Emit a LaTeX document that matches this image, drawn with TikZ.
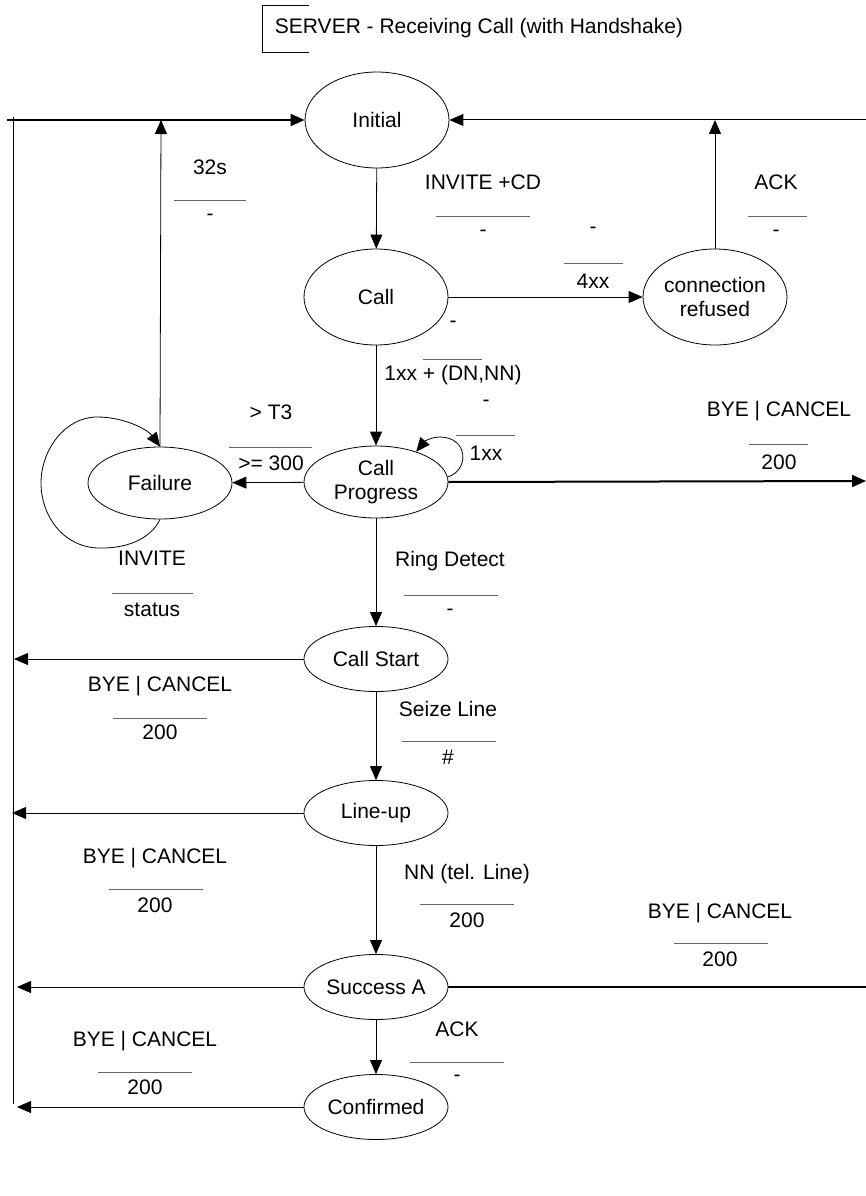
\documentclass[tikz,border=0pt]{standalone}
\usepackage{fontspec}
\setmainfont{Liberation Sans}
\usetikzlibrary{arrows.meta,shapes.geometric}
\begin{document}
\begin{tikzpicture}[x=1pt,y=-1pt,
  font=\fontsize{21}{23.5}\selectfont,
  state/.style={draw,ellipse,line width=0.8pt,inner sep=0pt,minimum width=144pt,align=center},
  tall/.style={state,minimum height=96pt},
  mid/.style={state,minimum height=72pt},
  low/.style={state,minimum height=65pt},
  edge/.style={line width=0.8pt,-{Triangle[length=14pt,width=12pt]}},
  bold/.style={line width=2pt},
  txt/.style={inner sep=0pt},
  bar/.style={draw=black!60,line width=0.9pt}]
\useasboundingbox (0,0) rectangle (866,1196);

% title with its open frame
\node[txt] (title) at (479,28) {SERVER - Receiving Call (with Handshake)};
\draw[line width=0.8pt] (309,5) -- (262,5) -- (262,52) -- (309,52);

% states
\node[tall] (init)  at (377,120) {Initial};
\node[tall] (call)  at (376,297) {Call};
\node[tall] (refus) at (715,297) {connection\\refused};
\node[mid]  (prog)  at (376,482) {Call\\Progress};
\node[mid]  (fail)  at (160,483) {Failure};
\node[low]  (start) at (376,659) {Call Start};
\node[low]  (line)  at (376,813) {Line-up};
\node[low]  (succ)  at (376,987) {Success A};
\node[low]  (conf)  at (376,1107) {Confirmed};

% free ends of the connectors
\coordinate (topL)   at (7,120);
\coordinate (topR)   at (866,120);
\coordinate (railT)  at (13,117);
\coordinate (railB)  at (13,1104);
\coordinate (failUp) at (161,120);
\coordinate (refUp)  at (715,120);
\coordinate (progR)  at (866,481);
\coordinate (succR)  at (866,987);
\coordinate (startL) at (14,659);
\coordinate (lineL)  at (12,813);
\coordinate (succL)  at (17,987);
\coordinate (confL)  at (17,1107);

% return rail on the left
\draw[line width=0.8pt] (railT) -- (railB);
\draw[edge,bold] (topL) -- (init.west);
\draw[edge,line width=1pt] (topR) -- (init.east);

% main chain
\draw[edge] (init) -- (call);
\draw[edge] (call) -- (refus);
\draw[edge] (refus.north) -- (refUp);
\draw[edge] (call) -- (prog);
\draw[edge] (prog) -- (fail);
\draw[edge] (fail.north) -- (failUp);
\draw[edge] (prog) -- (start);
\draw[edge] (start) -- (line);
\draw[edge] (line) -- (succ);
\draw[edge] (succ) -- (conf);

% exits
\draw[edge,bold] (prog.east) -- (progR);
\draw[bold] (succ.east) -- (succR);
\draw[edge] (start.west) -- (startL);
\draw[edge] (line.west) -- (lineL);
\draw[edge] (succ.west) -- (succL);
\draw[edge] (conf.west) -- (confL);

% self loops
\draw[edge] (fail.south) .. controls (150,540) and (125,549) .. (97,548)
  .. controls (62,546) and (41,515) .. (41,483)
  .. controls (41,450) and (65,417) .. (97,417)
  .. controls (125,417) and (148,430) .. (fail.north);
\draw[edge] (prog.4) .. controls (470,470) and (468,437) .. (440,437)
  .. controls (432,437) and (425,441) .. (prog.37);

% transition labels: event, bar, action
\node[txt] (l1a) at (210,167) {32s};
\draw[bar] (174,200) -- (246,200);
\node[txt] (l1b) at (210,217) {-};

\node[txt] (l2a) at (483,182) {INVITE +CD};
\draw[bar] (436,216) -- (530,216);
\node[txt] (l2b) at (483,233) {-};

\node[txt] (l3a) at (593,230) {-};
\draw[bar] (564,263) -- (623,263);
\node[txt] (l3b) at (593,281) {4xx};

\node[txt] (l4a) at (776,182) {ACK};
\draw[bar] (748,216) -- (807,216);
\node[txt] (l4b) at (776,233) {-};

\node[txt] (l5a) at (453,324) {-};
\draw[bar] (423,359) -- (482,359);
\node[txt] (l5b) at (453,375) {1xx + (DN,NN)};

\node[txt] (l6a) at (486,403) {-};
\draw[bar] (456,435) -- (515,435);
\node[txt] (l6b) at (486,453) {1xx};

\node[txt] (l7a) at (271,412) {> T3};
\draw[bar] (229,447) -- (312,447);
\node[txt] (l7b) at (271,463) {>= 300};

\node[txt] (l8a) at (779,411) {BYE | CANCEL};
\draw[bar] (749,444) -- (808,444);
\node[txt] (l8b) at (779,462) {200};

\node[txt] (l9a) at (152,558) {INVITE};
\draw[bar] (112,593) -- (193,593);
\node[txt] (l9b) at (152,610) {status};

\node[txt] (l10a) at (450,561) {Ring Detect};
\draw[bar] (404,595) -- (498,595);
\node[txt] (l10b) at (450,612) {-};

\node[txt] (l11a) at (160,686) {BYE | CANCEL};
\draw[bar] (113,718) -- (207,718);
\node[txt] (l11b) at (160,732) {200};

\node[txt] (l12a) at (448,709) {Seize Line};
\draw[bar] (402,741) -- (496,741);
\node[txt] (l12b) at (448,757) {\#};

\node[txt] (l13a) at (155,858) {BYE | CANCEL};
\draw[bar] (109,889) -- (203,889);
\node[txt] (l13b) at (155,905) {200};

\node[txt] (l14a) at (467,874) {NN (tel. Line)};
\draw[bar] (420,904) -- (514,904);
\node[txt] (l14b) at (467,920) {200};

\node[txt] (l15a) at (720,913) {BYE | CANCEL};
\draw[bar] (674,943) -- (768,943);
\node[txt] (l15b) at (720,959) {200};

\node[txt] (l16a) at (457,1029) {ACK};
\draw[bar] (410,1062) -- (504,1062);
\node[txt] (l16b) at (457,1078) {-};

\node[txt] (l17a) at (145,1041) {BYE | CANCEL};
\draw[bar] (98,1072) -- (192,1072);
\node[txt] (l17b) at (145,1087) {200};
\end{tikzpicture}
\end{document}
